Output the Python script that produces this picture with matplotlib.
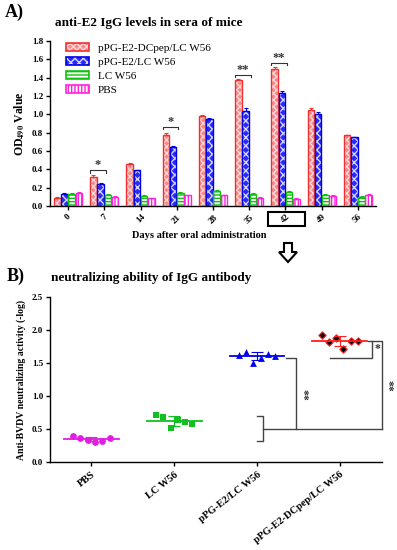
import numpy as np
import matplotlib
matplotlib.use("Agg")
import matplotlib.pyplot as plt
from matplotlib.patches import Patch, Rectangle, Polygon

plt.rcParams['font.family'] = ['Liberation Serif', 'DejaVu Serif']
plt.rcParams['mathtext.fontset'] = 'stix'

# ---------------- Data: panel A ----------------
days = ['0', '7', '14', '21', '28', '35', '42', '49', '56']
series_names = ['pPG-E2-DCpep/LC W56', 'pPG-E2/LC W56', 'LC W56', 'PBS']
od_dcpep = [0.09, 0.32, 0.46, 0.77, 0.98, 1.37, 1.49, 1.05, 0.77]
od_e2 = [0.13, 0.24, 0.39, 0.64, 0.95, 1.04, 1.23, 1.00, 0.75]
od_lc = [0.13, 0.12, 0.11, 0.14, 0.165, 0.13, 0.155, 0.12, 0.10]
od_pbs = [0.14, 0.10, 0.085, 0.115, 0.115, 0.09, 0.08, 0.11, 0.125]
err_dcpep = [0.005, 0.015, 0.008, 0.03, 0.008, 0.015, 0.025, 0.02, 0.008]
err_e2 = [0.008, 0.01, 0.008, 0.01, 0.008, 0.025, 0.03, 0.03, 0.008]
err_lc = [0.01, 0.008, 0.008, 0.008, 0.01, 0.008, 0.01, 0.008, 0.008]
err_pbs = [0.008, 0.006, 0.006, 0.006, 0.006, 0.006, 0.006, 0.006, 0.006]
sig_days = ['7', '21', '35', '42']
sig_heights = [0.39, 0.86, 1.43, 1.56]
sig_marks = ['*', '*', '**', '**']

# ---------------- Data: panel B ----------------
groups = ['PBS', 'LC W56', 'pPG-E2/LC W56', 'pPG-E2-DCpep/LC W56']
nab_pbs = [0.40, 0.36, 0.34, 0.30, 0.32, 0.37]
nab_lc = [0.71, 0.68, 0.51, 0.64, 0.60, 0.58]
nab_e2 = [1.62, 1.67, 1.50, 1.58, 1.64, 1.60]
nab_dcpep = [1.93, 1.82, 1.88, 1.71, 1.84, 1.83]

fig = plt.figure(figsize=(3.97, 5.5), dpi=100)
W, H = 397, 550

def fx(px):
    return px / W

def fy(py):
    return 1 - py / H

# ---------------- Panel A ----------------
axA = fig.add_axes([fx(50), fy(206), fx(376) - fx(50), fy(41) - fy(206)])
x = np.arange(len(days))
styles = [
    dict(face='#f58a8a', hatchc='#ffd6d6', hatch='xxxxx', edge='#f03030'),
    dict(face='#2a2aff', hatchc='#d8d8ff', hatch='xxxx', edge='#0000e0'),
    dict(face='white', hatchc='#10c010', hatch='-----', edge='#10c010'),
    dict(face='white', hatchc='#ff20e0', hatch='|||||', edge='#ff20e0'),
]
vals = [od_dcpep, od_e2, od_lc, od_pbs]
errs = [err_dcpep, err_e2, err_lc, err_pbs]
offsets = [-0.3, -0.1, 0.1, 0.3]
bw = 0.18
handles = []
for v, e, off, st, nm in zip(vals, errs, offsets, styles, series_names):
    axA.bar(x + off, v, bw, color=st['face'], edgecolor=st['hatchc'],
            hatch=st['hatch'], linewidth=0, zorder=2)
    axA.bar(x + off, v, bw, fill=False, edgecolor=st['edge'], linewidth=1.0, zorder=3)
    axA.errorbar(x + off, v, yerr=[np.zeros(len(e)), e], fmt='none',
                 ecolor=st['edge'], elinewidth=0.8, capsize=1.5, capthick=0.8, zorder=4)
    h1 = Patch(facecolor=st['face'], edgecolor=st['hatchc'], hatch=st['hatch'], linewidth=0)
    h2 = Patch(fill=False, edgecolor=st['edge'], linewidth=1.2)
    handles.append((h1, h2))

for d, hgt, m in zip(sig_days, sig_heights, sig_marks):
    i = days.index(d)
    x0, x1 = i - 0.39, i + 0.04
    axA.plot([x0, x0, x1, x1], [hgt - 0.025, hgt, hgt, hgt - 0.025],
             color='#333333', lw=0.8, zorder=5)
    axA.text((x0 + x1) / 2, hgt - 0.01, m, ha='center', va='bottom',
             fontsize=9, fontweight='bold', color='#333333')

axA.set_xlim(-0.5, 8.5)
axA.set_ylim(0, 1.8)
axA.set_yticks(np.arange(0, 1.81, 0.2))
axA.set_yticklabels([f'{t:.1f}' for t in np.arange(0, 1.81, 0.2)],
                    fontsize=6.5, fontweight='bold')
axA.set_xticks(x)
axA.set_xticklabels(days, rotation=45, fontsize=6.5, fontweight='bold', ha='center')
for s in ['top', 'right']:
    axA.spines[s].set_visible(False)
for s in ['left', 'bottom']:
    axA.spines[s].set_linewidth(1.0)
axA.tick_params(axis='both', length=3, width=1, pad=2)
axA.set_ylabel(r'OD$_\mathbf{490}$ Value', fontsize=8.5, fontweight='bold', labelpad=4)
leg = axA.legend(handles, series_names, loc='upper left',
                 bbox_to_anchor=(0.03, 1.03), frameon=False, fontsize=8,
                 handlelength=2.0, handleheight=0.8, labelspacing=0.35,
                 handletextpad=0.8, borderaxespad=0.2)

fig.text(fx(5), fy(12), 'A)', fontsize=13, fontweight='bold', va='center', ha='left')
fig.text(fx(149), fy(23), 'anti-E2 IgG levels in sera of mice', fontsize=9.5,
         fontweight='bold', va='center', ha='center')
fig.text(fx(199), fy(235), 'Days after oral administration', fontsize=7.5,
         fontweight='bold', va='center', ha='center')
fig.patches.append(Rectangle((fx(268), fy(226)), fx(305) - fx(268), fy(212) - fy(226),
                             transform=fig.transFigure, fill=False,
                             edgecolor='black', linewidth=1.5))
# hollow down arrow
ax_c = 288
arrow_pts = [(ax_c - 4, 243), (ax_c + 4, 243), (ax_c + 4, 252), (ax_c + 9, 252),
             (ax_c, 262), (ax_c - 9, 252), (ax_c - 4, 252)]
fig.patches.append(Polygon([(fx(a), fy(b)) for a, b in arrow_pts], closed=True,
                           transform=fig.transFigure, facecolor='white',
                           edgecolor='black', linewidth=1.5))

# ---------------- Panel B ----------------
axB = fig.add_axes([fx(50), fy(462), fx(382) - fx(50), fy(297) - fy(462)])
bdata = [nab_pbs, nab_lc, nab_e2, nab_dcpep]
bcolors = ['#e020e0', '#10c020', '#0000ee', '#ff2020']
bmarkers = ['o', 's', '^', 'D']
for i, (vals_i, c, mk) in enumerate(zip(bdata, bcolors, bmarkers)):
    v = np.array(vals_i)
    xs = i + np.linspace(-0.22, 0.22, len(v))
    if mk == 'D':
        axB.scatter(xs, v, marker='D', s=14, facecolor='black', edgecolor='#ff2020',
                    linewidth=0.8, zorder=3)
    else:
        axB.scatter(xs, v, marker=mk, s=24, color=c, zorder=3, linewidth=0)
    m, sd = v.mean(), v.std(ddof=1)
    axB.plot([i - 0.33, i + 0.33], [m, m], color=c, lw=1.3, zorder=4)
    axB.errorbar([i], [m], yerr=[sd], fmt='none', ecolor=c, elinewidth=0.8,
                 capsize=4, capthick=0.8, zorder=4)

lc = '#444444'
kw = dict(color=lc, lw=1.0, clip_on=False, zorder=5)
# bracket grouping PBS & LC
axB.plot([2.0, 2.07, 2.07, 2.0], [0.69, 0.69, 0.32, 0.32], **kw)
axB.plot([2.07, 3.51], [0.50, 0.50], **kw)
# pPG-E2 bracket
axB.plot([2.35, 2.47, 2.47], [1.58, 1.58, 0.50], **kw)
# DCpep bracket
axB.plot([3.34, 3.51, 3.51], [1.83, 1.83, 0.50], **kw)
axB.plot([2.88, 3.39, 3.39], [1.58, 1.58, 1.83], **kw)
axB.text(3.45, 1.71, '*', fontsize=8.5, fontweight='bold', ha='center', va='center', color='#333333')
axB.text(2.55, 1.02, '**', fontsize=8.5, fontweight='bold', ha='center', va='center',
         rotation=270, color='#333333')
axB.text(3.58, 1.16, '**', fontsize=8.5, fontweight='bold', ha='center', va='center',
         rotation=270, color='#333333', clip_on=False)

axB.set_xlim(-0.5, 3.51)
axB.set_ylim(0, 2.5)
axB.set_yticks(np.arange(0, 2.51, 0.5))
axB.set_yticklabels([f'{t:.1f}' for t in np.arange(0, 2.51, 0.5)],
                    fontsize=6.5, fontweight='bold')
axB.set_xticks(range(len(groups)))
axB.set_xticklabels(groups, rotation=38, ha='right', rotation_mode='anchor',
                    fontsize=7.5, fontweight='bold')
for s in ['top', 'right']:
    axB.spines[s].set_visible(False)
for s in ['left', 'bottom']:
    axB.spines[s].set_linewidth(1.0)
axB.tick_params(axis='both', length=3, width=1, pad=2)
axB.tick_params(axis='x', pad=3)
axB.set_ylabel('Anti-BVDV neutralizing activity (-log)', fontsize=7,
               fontweight='bold', labelpad=4)

fig.text(fx(7), fy(276), 'B)', fontsize=13, fontweight='bold', va='center', ha='left')
fig.text(fx(151), fy(278), 'neutralizing ability of IgG antibody', fontsize=9.5,
         fontweight='bold', va='center', ha='center')

fig.savefig('out.png', dpi=100)
